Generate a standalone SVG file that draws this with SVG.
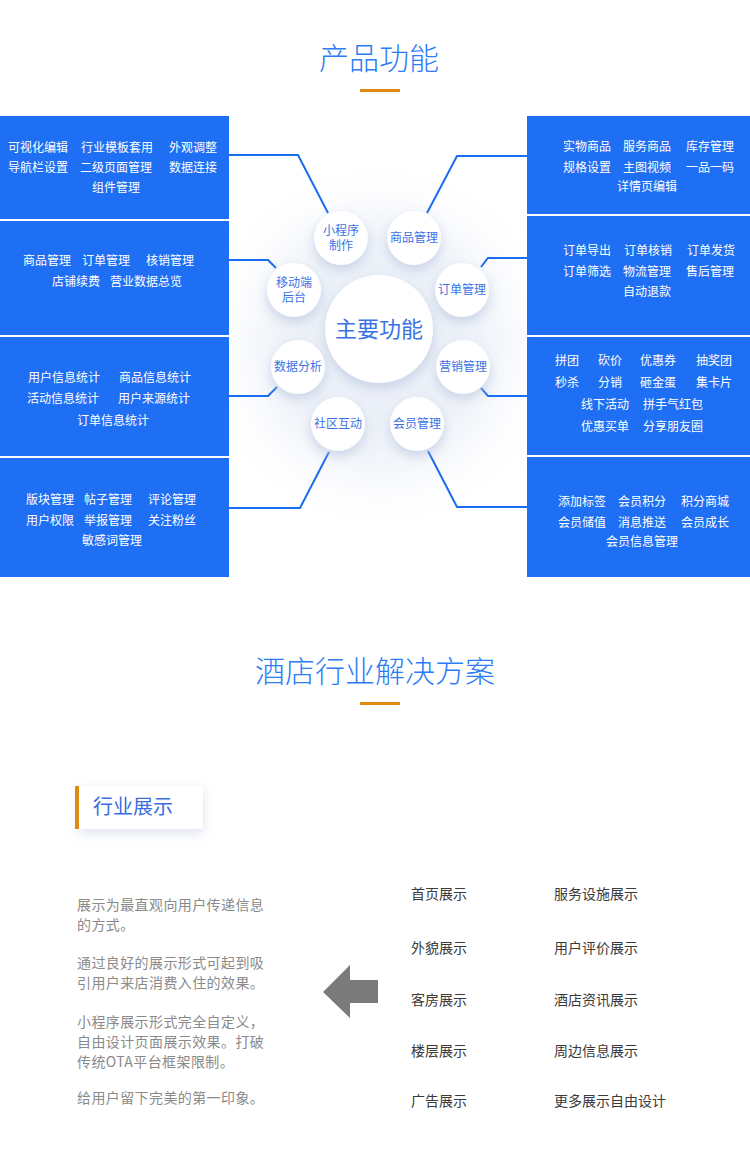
<svg xmlns="http://www.w3.org/2000/svg" width="750" height="1174" viewBox="0 0 750 1174">
<defs>
<style>
.title{font-family:"Noto Sans CJK SC","Noto Sans",sans-serif;font-size:30px;fill:#2b7cf6;text-anchor:middle;font-weight:300}
.pt{font-family:"Noto Sans CJK SC","Noto Sans",sans-serif;font-size:12px;fill:#ffffff}
.panel{fill:#1e6ff3}
.ct{font-family:"Noto Sans CJK SC","Noto Sans",sans-serif;font-size:12px;fill:#3a72e4;text-anchor:middle}
.conn{fill:none;stroke:#1a6cf0;stroke-width:2}
.circ{fill:#ffffff;filter:url(#sh)}
.para{font-family:"Noto Sans CJK SC","Noto Sans",sans-serif;font-size:14px;fill:#8a8a8a;letter-spacing:0.4px}
.li{font-family:"Noto Sans CJK SC","Noto Sans",sans-serif;font-size:14px;fill:#3a3a3a}
</style>
<filter id="sh" x="-50%" y="-50%" width="200%" height="200%">
<feDropShadow dx="0" dy="5" stdDeviation="6" flood-color="#b4c2de" flood-opacity="0.65"/>
</filter>
<filter id="blur" x="-50%" y="-50%" width="200%" height="200%">
<feGaussianBlur stdDeviation="28"/>
</filter>
<filter id="boxsh" x="-30%" y="-50%" width="160%" height="200%">
<feDropShadow dx="0" dy="4" stdDeviation="6" flood-color="#c5cfe2" flood-opacity="0.6"/>
</filter>
</defs>
<rect width="750" height="1174" fill="#ffffff"/>

<g id="title1">
<text class="title" x="379" y="69">产品功能</text>
<rect x="360" y="89" width="40" height="3" fill="#e08a10"/>
</g>

<ellipse cx="380" cy="345" rx="125" ry="130" fill="#dfe6f3" opacity="0.6" filter="url(#blur)"/>

<g id="left-panels">
<g id="panel-l1">
<rect class="panel" x="0" y="116" width="229" height="103"/>
<text class="pt" x="8" y="152">可视化编辑</text>
<text class="pt" x="81" y="152">行业模板套用</text>
<text class="pt" x="169" y="152">外观调整</text>
<text class="pt" x="8" y="172">导航栏设置</text>
<text class="pt" x="80" y="172">二级页面管理</text>
<text class="pt" x="169" y="172">数据连接</text>
<text class="pt" x="92" y="192">组件管理</text>
</g>
<g id="panel-l2">
<rect class="panel" x="0" y="221" width="229" height="114"/>
<text class="pt" x="23" y="265">商品管理</text>
<text class="pt" x="82" y="265">订单管理</text>
<text class="pt" x="146" y="265">核销管理</text>
<text class="pt" x="52" y="286">店铺续费</text>
<text class="pt" x="110" y="286">营业数据总览</text>
</g>
<g id="panel-l3">
<rect class="panel" x="0" y="337" width="229" height="119"/>
<text class="pt" x="28" y="382">用户信息统计</text>
<text class="pt" x="119" y="382">商品信息统计</text>
<text class="pt" x="27" y="403">活动信息统计</text>
<text class="pt" x="118" y="403">用户来源统计</text>
<text class="pt" x="77" y="425">订单信息统计</text>
</g>
<g id="panel-l4">
<rect class="panel" x="0" y="458" width="229" height="119"/>
<text class="pt" x="26" y="504">版块管理</text>
<text class="pt" x="84" y="504">帖子管理</text>
<text class="pt" x="148" y="504">评论管理</text>
<text class="pt" x="26" y="525">用户权限</text>
<text class="pt" x="84" y="525">举报管理</text>
<text class="pt" x="148" y="525">关注粉丝</text>
<text class="pt" x="82" y="545">敏感词管理</text>
</g>
</g>

<g id="right-panels">
<g id="panel-r1">
<rect class="panel" x="527" y="116" width="223" height="98"/>
<text class="pt" x="563" y="151">实物商品</text>
<text class="pt" x="623" y="151">服务商品</text>
<text class="pt" x="686" y="151">库存管理</text>
<text class="pt" x="563" y="172">规格设置</text>
<text class="pt" x="623" y="172">主图视频</text>
<text class="pt" x="686" y="172">一品一码</text>
<text class="pt" x="617" y="191">详情页编辑</text>
</g>
<g id="panel-r2">
<rect class="panel" x="527" y="216" width="223" height="119"/>
<text class="pt" x="563" y="255">订单导出</text>
<text class="pt" x="624" y="255">订单核销</text>
<text class="pt" x="687" y="255">订单发货</text>
<text class="pt" x="563" y="276">订单筛选</text>
<text class="pt" x="623" y="276">物流管理</text>
<text class="pt" x="686" y="276">售后管理</text>
<text class="pt" x="623" y="296">自动退款</text>
</g>
<g id="panel-r3">
<rect class="panel" x="527" y="337" width="223" height="118"/>
<text class="pt" x="555" y="365">拼团</text>
<text class="pt" x="598" y="365">砍价</text>
<text class="pt" x="640" y="365">优惠券</text>
<text class="pt" x="696" y="365">抽奖团</text>
<text class="pt" x="555" y="387">秒杀</text>
<text class="pt" x="598" y="387">分销</text>
<text class="pt" x="640" y="387">砸金蛋</text>
<text class="pt" x="696" y="387">集卡片</text>
<text class="pt" x="581" y="409">线下活动</text>
<text class="pt" x="643" y="409">拼手气红包</text>
<text class="pt" x="581" y="431">优惠买单</text>
<text class="pt" x="643" y="431">分享朋友圈</text>
</g>
<g id="panel-r4">
<rect class="panel" x="527" y="457" width="223" height="120"/>
<text class="pt" x="558" y="506">添加标签</text>
<text class="pt" x="618" y="506">会员积分</text>
<text class="pt" x="681" y="506">积分商城</text>
<text class="pt" x="558" y="527">会员储值</text>
<text class="pt" x="618" y="527">消息推送</text>
<text class="pt" x="681" y="527">会员成长</text>
<text class="pt" x="606" y="546">会员信息管理</text>
</g>
</g>

<g id="connectors">
<polyline class="conn" points="229,155 298,155 328,213"/>
<polyline class="conn" points="229,260 268,260 276,268"/>
<polyline class="conn" points="229,396 268,396 277,387"/>
<polyline class="conn" points="229,508 300,508 329,452"/>
<polyline class="conn" points="527,156 457,156 427,213"/>
<polyline class="conn" points="527,258 488,258 481,267"/>
<polyline class="conn" points="527,396 488,396 481,388"/>
<polyline class="conn" points="527,507 457,507 428,451"/>
</g>

<g id="node-main">
<circle class="circ" cx="379" cy="329" r="54"/>
<text class="ct" x="379" y="337" style="font-size:22px">主要功能</text>
</g>
<g id="node-miniapp">
<circle class="circ" cx="341" cy="238" r="27"/>
<text class="ct" x="341" y="235">小程序</text>
<text class="ct" x="341" y="250">制作</text>
</g>
<g id="node-goods">
<circle class="circ" cx="414" cy="238" r="27"/>
<text class="ct" x="414" y="242">商品管理</text>
</g>
<g id="node-mobile">
<circle class="circ" cx="294" cy="290" r="27"/>
<text class="ct" x="294" y="287">移动端</text>
<text class="ct" x="294" y="302">后台</text>
</g>
<g id="node-order">
<circle class="circ" cx="462" cy="290" r="27"/>
<text class="ct" x="462" y="294">订单管理</text>
</g>
<g id="node-data">
<circle class="circ" cx="298" cy="367" r="27"/>
<text class="ct" x="298" y="371">数据分析</text>
</g>
<g id="node-marketing">
<circle class="circ" cx="463" cy="367" r="27"/>
<text class="ct" x="463" y="371">营销管理</text>
</g>
<g id="node-community">
<circle class="circ" cx="338" cy="424" r="27"/>
<text class="ct" x="338" y="428">社区互动</text>
</g>
<g id="node-member">
<circle class="circ" cx="417" cy="424" r="27"/>
<text class="ct" x="417" y="428">会员管理</text>
</g>

<g id="title2">
<text class="title" x="375" y="682">酒店行业解决方案</text>
<rect x="360" y="702" width="40" height="3" fill="#e08a10"/>
</g>

<g id="section-head">
<rect x="79" y="786" width="124" height="43" fill="#ffffff" filter="url(#boxsh)"/>
<rect x="75" y="786" width="4" height="43" fill="#e08a10"/>
<text x="93" y="814" style="font-family:'Noto Sans CJK SC','Noto Sans',sans-serif;font-size:20px;fill:#3a6ee0">行业展示</text>
</g>

<g id="description">
<text class="para" x="77" y="910">展示为最直观向用户传递信息</text>
<text class="para" x="77" y="930">的方式。</text>
<text class="para" x="77" y="968">通过良好的展示形式可起到吸</text>
<text class="para" x="77" y="988">引用户来店消费入住的效果。</text>
<text class="para" x="77" y="1027">小程序展示形式完全自定义，</text>
<text class="para" x="77" y="1047">自由设计页面展示效果。打破</text>
<text class="para" x="77" y="1067">传统OTA平台框架限制。</text>
<text class="para" x="77" y="1103">给用户留下完美的第一印象。</text>
</g>

<g id="arrow">
<polygon points="323,992 350,965 350,980 378,980 378,1003 350,1003 350,1018" fill="#7a7a7a"/>
</g>

<g id="features">
<text class="li" x="411" y="899">首页展示</text>
<text class="li" x="554" y="899">服务设施展示</text>
<text class="li" x="411" y="953">外貌展示</text>
<text class="li" x="554" y="953">用户评价展示</text>
<text class="li" x="411" y="1005">客房展示</text>
<text class="li" x="554" y="1005">酒店资讯展示</text>
<text class="li" x="411" y="1056">楼层展示</text>
<text class="li" x="554" y="1056">周边信息展示</text>
<text class="li" x="411" y="1106">广告展示</text>
<text class="li" x="554" y="1106">更多展示自由设计</text>
</g>
</svg>
